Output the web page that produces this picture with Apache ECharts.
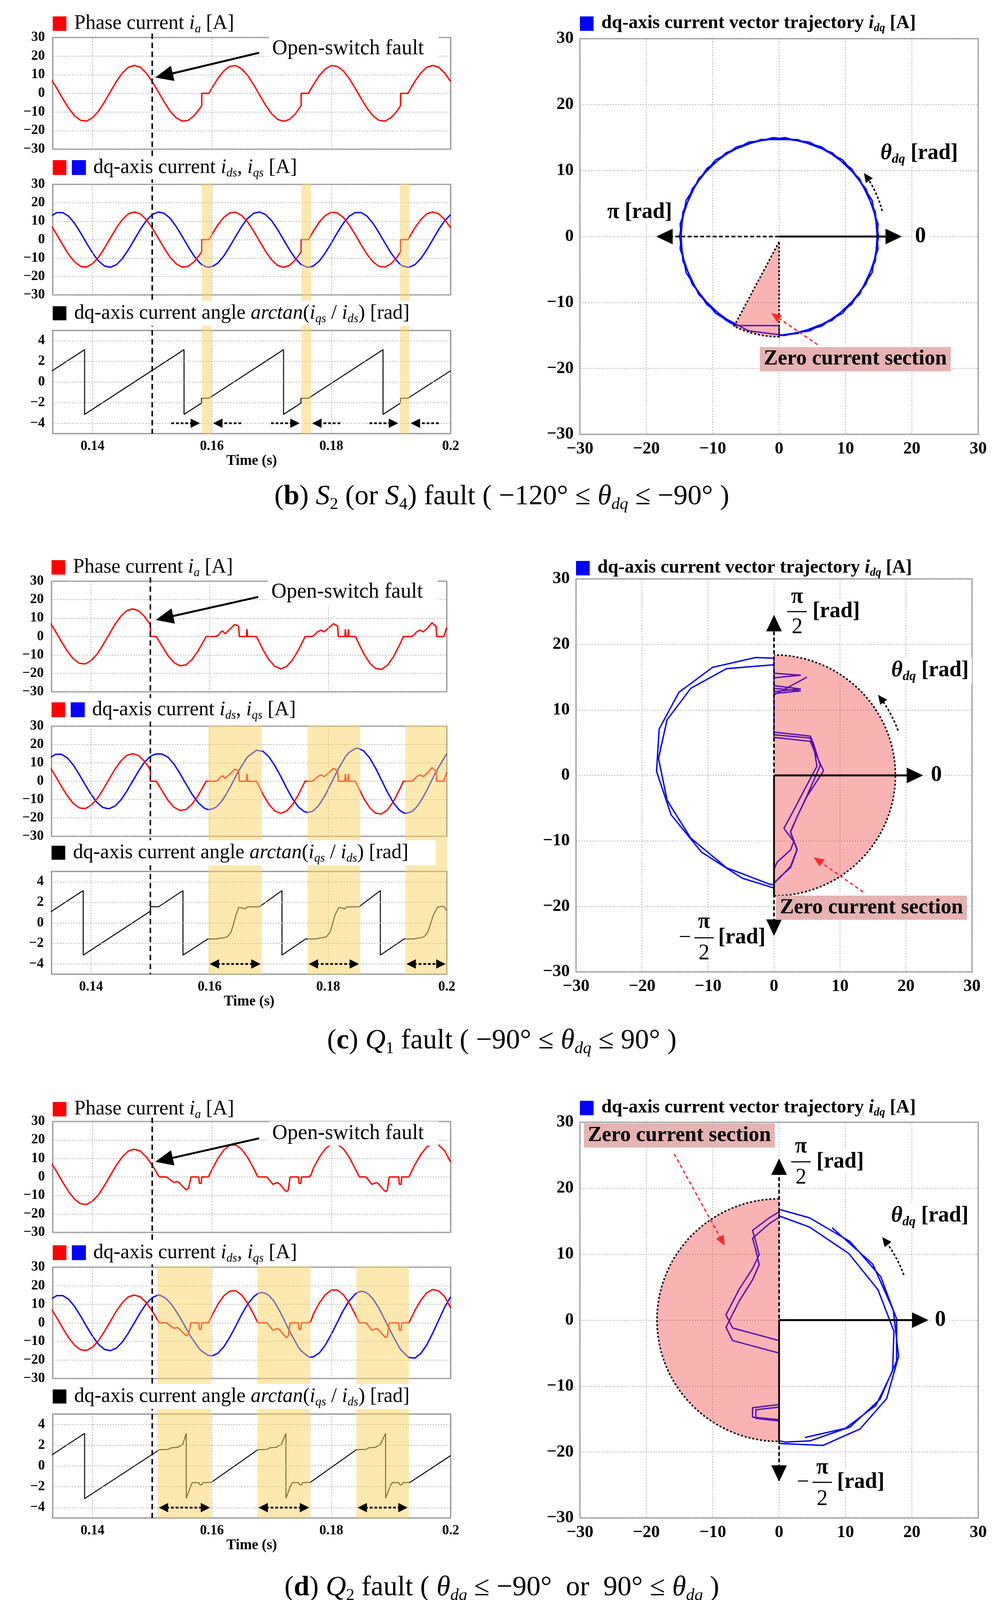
<!DOCTYPE html>
<html>
<head>
<meta charset="utf-8">
<title>Open-switch fault - dq-axis current</title>
<script src="https://cdn.jsdelivr.net/npm/echarts@6.0.0/dist/echarts.min.js"></script>
<style>
html, body { margin: 0; padding: 0; background: #fff; }
#main { width: 2553px; height: 4139px; }
</style>
</head>
<body>
<div id="main"></div>
<script>
var SERIF = '"Liberation Serif", "Times New Roman", serif';
var TMIN = 0.13333, TMAX = 0.2, FAULT_T = 0.15;
var timeTicks = [0.14, 0.16, 0.18, 0.2];
var angleTicks = [-4, -2, 0, 2, 4];

// (b) S2 fault : phase current ia (= ids) and iqs
var tB = [0.133,0.134,0.135,0.136,0.137,0.138,0.139,0.140,0.141,0.142,0.143,0.144,0.145,0.146,0.147,0.148,0.149,0.150,0.151,0.152,0.153,0.154,0.155,0.156,0.157,0.158,
  0.1583,0.1583,0.159,0.1595,
  0.160,0.161,0.162,0.163,0.164,0.165,0.166,0.167,0.168,0.169,0.170,0.171,0.172,0.173,0.174,
  0.17495,0.17495,0.175,0.176,0.17617,
  0.177,0.178,0.179,0.180,0.181,0.182,0.183,0.184,0.185,0.186,0.187,0.188,0.189,0.190,0.191,
  0.1916,0.1916,0.192,0.19283,
  0.193,0.194,0.195,0.196,0.197,0.198,0.199,0.200];
var iaB = [8.0,2.8,-2.8,-8.0,-12.1,-14.5,-14.9,-13.1,-9.6,-4.6,0.9,6.4,10.9,14.0,15.0,14.0,10.9,6.4,0.9,-4.6,-9.6,-13.1,-14.9,-14.5,-12.1,-8.0,
  -6.6,0,0,0,
  2.8,8.0,12.1,14.5,14.9,13.1,9.6,4.6,-0.9,-6.4,-10.9,-14.0,-15.0,-14.0,-10.9,
  -6.6,0,0,0,0,
  4.6,9.6,13.1,14.9,14.5,12.1,8.0,2.8,-2.8,-8.0,-12.1,-14.5,-14.9,-13.1,-9.6,
  -6.6,0,0,0,
  0.9,6.4,10.9,14.0,15.0,14.0,10.9,6.4];
var iqB = [12.7,14.7,14.7,12.7,8.8,3.7,-1.9,-7.2,-11.6,-14.3,-15.0,-13.6,-10.3,-5.5,0,5.5,10.3,13.6,15.0,14.3,11.6,7.2,1.9,-3.7,-8.8,-12.7,
  -13.5,-13.5,-14.7,-15.0,
  -14.7,-12.7,-8.8,-3.7,1.9,7.2,11.6,14.3,15.0,13.6,10.3,5.5,0,-5.5,-10.3,
  -13.5,-13.5,-13.6,-15.0,-15.0,
  -14.3,-11.6,-7.2,-1.9,3.7,8.8,12.7,14.7,14.7,12.7,8.8,3.7,-1.9,-7.2,-11.6,
  -13.5,-13.5,-14.3,-15.0,
  -15.0,-13.6,-10.3,-5.5,0,5.5,10.3,13.6];
var tAngB = [0.133,0.13867,0.13867,0.15533,0.15533,0.15826,0.15826,0.1595,0.172,0.172,0.17492,0.17492,0.17617,0.18867,0.18867,0.19159,0.19159,0.19283,0.2];
var angB = [1.0,3.14,-3.14,3.14,-3.14,-2.04,-1.57,-1.57,3.14,-3.14,-2.04,-1.57,-1.57,3.14,-3.14,-2.04,-1.57,-1.57,1.1];
var bandsB = [[0.1583, 0.1600], [0.1750, 0.1766], [0.1915, 0.1931]];

// (c) Q1 fault
var tC = [0.133,0.134,0.135,0.136,0.137,0.138,0.139,0.140,0.141,0.142,
  0.143,0.144,0.145,0.146,0.147,0.148,0.149,0.150,0.150,0.151,
  0.152,0.153,0.154,0.155,0.156,0.157,0.158,0.159,0.1594,0.160,
  0.161,0.1614,0.1619,0.1622,0.1626,0.1631,0.1636,0.1642,0.1647,0.1649,
  0.1650,0.1662,0.1663,0.1664,0.1679,0.169,0.170,0.171,0.172,0.173,
  0.174,0.175,0.176,0.1761,0.1766,0.1773,0.1777,0.1782,0.1788,0.1793,
  0.1797,0.1802,0.1809,0.1814,0.1816,0.1817,0.1828,0.1829,0.1830,0.1833,
  0.1834,0.1835,0.1846,0.185,0.186,0.187,0.188,0.189,0.190,0.191,
  0.192,0.1927,0.1932,0.1941,0.1945,0.1949,0.1955,0.1960,0.1964,0.1969,
  0.1975,0.1980,0.1982,0.1983,0.1995,0.200];
var iaC = [8.0,2.8,-2.8,-8.0,-12.1,-14.5,-14.9,-13.1,-9.6,-4.6,
  0.9,6.4,10.9,14.0,15.0,14.0,10.9,6.4,0,0,
  -5.3,-10.5,-14.2,-15.9,-15.4,-12.6,-8.1,-2.4,0,0,
  0,0.5,2.5,3.0,1.5,3.0,4.5,6.5,6.0,5.5,
  0,0,4.0,0,0,-7.2,-12.6,-16.2,-17.5,-16.2,
  -12.6,-7.2,-0.7,0,0,0,1.0,2.5,3.5,2.5,
  3.5,5.0,7.0,6.0,5.5,0,0,4.0,0,0,
  4.0,0,0,-2.8,-9.3,-14.4,-17.4,-17.8,-15.6,-11.0,
  -4.8,0,0,0,1.0,2.5,3.5,2.5,3.5,5.0,
  7.5,6.0,5.5,0,0,5.0];
var iqC = [12.7,14.7,14.7,12.7,8.8,3.7,-1.9,-7.2,-11.6,-14.3,
  -15.0,-13.6,-10.3,-5.5,0,5.5,10.3,13.6,13.6,14.9,
  14.8,13.0,9.3,4.2,-1.4,-6.9,-11.4,-14.4,-15.1,-15.5,
  -14.3,-13.2,-11.4,-10.1,-8.1,-5.3,-2.4,1.4,4.5,5.7,
  6.2,12.5,12.9,13.3,16.9,16.3,13.3,8.5,2.6,-3.8,
  -9.6,-14.1,-16.6,-16.7,-17.0,-16.4,-15.5,-13.9,-11.3,-8.6,
  -6.3,-3.1,1.5,4.8,6.0,6.6,12.8,13.2,13.7,14.9,
  15.3,15.6,17.9,18.0,16.5,12.7,7.1,0.6,-6.0,-11.7,
  -15.7,-17.2,-17.5,-16.5,-15.4,-14.1,-11.4,-8.7,-6.3,-3.2,
  0.7,4.0,5.2,5.8,12.3,15.0];
var tAngC = [0.133,0.13867,0.13867,0.150,0.150,0.1514,0.1555,0.1555,0.1597,0.1611,0.1617,0.1624,0.1630,0.1636,0.1640,0.1644,0.1649,0.1655,0.1660,0.1663,
  0.1684,0.1722,0.1722,0.1762,0.1778,0.1784,0.1790,0.1797,0.1803,0.1807,0.1811,0.1818,0.1823,0.1828,0.1831,
  0.1852,0.1888,0.1888,0.1928,0.1944,0.1950,0.1956,0.1962,0.1968,0.1972,0.1977,0.1984,0.1989,0.1995,0.2];
var angC = [1.0,3.14,-3.14,1.13,1.57,1.57,3.14,-3.14,-1.57,-1.57,-1.50,-1.45,-1.35,-0.9,-0.2,0.7,1.5,1.45,1.35,1.55,
  1.57,3.14,-3.14,-1.57,-1.57,-1.50,-1.45,-1.35,-0.9,-0.2,0.7,1.5,1.45,1.35,1.55,
  1.57,3.14,-3.14,-1.57,-1.57,-1.50,-1.45,-1.35,-0.9,-0.2,0.7,1.5,1.6,1.6,1.2];
var bandsC = [[0.1598, 0.1688], [0.1765, 0.1854], [0.1930, 0.2000]];

// (d) Q2 fault
var tD = [0.133,0.134,0.135,0.136,0.137,0.138,0.139,0.140,0.141,0.142,
  0.143,0.144,0.145,0.146,0.147,0.148,0.149,0.150,0.151,0.1512,
  0.152,0.1524,0.1528,0.1532,0.1537,0.1541,0.1545,0.1549,0.1557,0.1561,
  0.1565,0.1578,0.1579,0.1582,0.1583,0.1594,0.160,0.161,0.162,0.163,
  0.164,0.165,0.166,0.167,0.1677,0.1684,0.1692,0.1696,0.1702,0.1706,
  0.1710,0.1714,0.1719,0.1725,0.1728,0.1731,0.1745,0.1746,0.1749,0.1750,
  0.1762,0.1766,0.177,0.178,0.179,0.180,0.181,0.182,0.183,0.184,
  0.1847,0.1851,0.1858,0.1862,0.1868,0.1872,0.1876,0.1880,0.1885,0.1891,
  0.1894,0.1897,0.1913,0.1914,0.1917,0.1918,0.1930,0.194,0.195,0.196,
  0.197,0.198,0.199,0.200];
var iaD = [8.0,2.8,-2.8,-8.0,-12.1,-14.5,-14.9,-13.1,-9.6,-4.6,
  0.9,6.4,10.9,14.0,15.0,14.0,10.9,6.4,0.9,0,
  0,0,-1.0,-2.0,-3.0,-2.5,-3.0,-4.5,-7.0,-6.0,
  0,0,-3.5,-3.5,0,0,3.9,10.0,14.6,17.1,
  17.3,14.9,10.5,4.6,0,0,0,-1.5,-4.0,-3.5,
  -3.0,-4.0,-6.0,-8.0,-7.0,0,0,-3.5,-3.5,0,
  0,1.0,4.7,10.7,15.2,17.7,17.7,15.3,10.7,4.6,
  0,0,0,-1.5,-4.0,-3.5,-3.0,-4.0,-6.0,-8.0,
  -7.0,0,0,-4.0,-4.0,0,0,6.6,12.2,16.2,
  18.0,17.2,14.1,8.0];
var iqD = [12.7,14.7,14.7,12.7,8.8,3.7,-1.9,-7.2,-11.6,-14.3,
  -15.0,-13.6,-10.3,-5.5,0,5.5,10.3,13.6,15.0,15.0,
  13.8,12.8,11.5,10.0,7.8,5.8,3.7,1.5,-3.1,-5.4,
  -7.6,-13.6,-14.0,-15.0,-15.3,-17.6,-17.8,-16.4,-12.9,-7.7,
  -1.7,4.6,10.1,14.1,15.8,16.4,15.6,14.6,12.4,10.6,
  8.4,6.1,2.9,-1.1,-3.1,-5.0,-13.2,-13.6,-14.9,-15.3,
  -18.3,-18.5,-18.3,-16.2,-12.0,-6.2,0.2,6.6,11.9,15.5,
  16.8,17.0,16.4,15.5,13.6,11.9,9.9,7.8,4.7,0.8,
  -1.2,-3.1,-12.8,-13.3,-14.7,-15.1,-18.7,-19.0,-16.5,-11.9,
  -5.5,1.5,8.5,14.0];
var tAngD = [0.133,0.13867,0.13867,0.1512,0.1527,0.1532,0.1543,0.1547,0.1551,0.1557,0.1557,0.1561,0.1564,0.1567,0.1578,0.1580,0.1583,0.1585,0.1599,
  0.1677,0.1692,0.1697,0.1708,0.1712,0.1716,0.1724,0.1724,0.1728,0.1731,0.1735,0.1745,0.1747,0.1750,0.1752,0.1765,
  0.1842,0.1858,0.1863,0.1874,0.1878,0.1882,0.1891,0.1891,0.1895,0.1898,0.1902,0.1913,0.1915,0.1918,0.1920,0.1932,0.2];
var angD = [1.0,3.14,-3.14,1.57,1.6,1.75,1.8,1.95,2.05,3.14,-3.1,-2.5,-2.0,-1.6,-1.6,-1.8,-1.8,-1.6,-1.57,
  1.57,1.6,1.75,1.8,1.95,2.05,3.14,-3.1,-2.5,-2.0,-1.6,-1.6,-1.8,-1.8,-1.6,-1.57,
  1.57,1.6,1.75,1.8,1.95,2.05,3.14,-3.1,-2.5,-2.0,-1.6,-1.6,-1.8,-1.8,-1.6,-1.57,1.0];
var bandsD = [[0.1509, 0.1599], [0.1676, 0.1765], [0.1842, 0.1930]];

// texts
var T1 = '{n|Phase current }{i|i}{s|a}{n| [A]}';
var T2 = '{n|dq-axis current }{i|i}{s|ds}{n|, }{i|i}{s|qs}{n| [A]}';
var T3 = '{n|dq-axis current angle }{i|arctan}{n|(}{i|i}{s|qs}{n| / }{i|i}{s|ds}{n|) [rad]}';
var TXY = '{n|dq-axis current vector trajectory }{i|i}{s|dq}{n| [A]}';
var capB = '{n|(}{b|b}{n|) }{i|S}{u|2}{n| (or }{i|S}{u|4}{n|) fault ( \u2212120° ≤ }{i|θ}{s|dq}{n| ≤ \u221290° )}';
var capC = '{n|(}{b|c}{n|) }{i|Q}{u|1}{n| fault ( \u221290° ≤ }{i|θ}{s|dq}{n| ≤ 90° )}';
var capD = '{n|(}{b|d}{n|) }{i|Q}{u|2}{n| fault ( }{i|θ}{s|dq}{n| ≤ \u221290°  or  90° ≤ }{i|θ}{s|dq}{n| )}';

var rows = [
  {t: tB, ia: iaB, iq: iqB, ta: tAngB, ang: angB, bands: bandsB, xyFrom: 0.13, split: true,
   left: 135, width: 1019, tops: [96, 472, 846], hts: [286, 283, 264], xy: [1485, 99, 1020, 1013],
   ty: [60, 429, 802], xyTy: 60, capY: 1272, cap: capB,
   fault: {tail: [0.1679, 21.8], tip: [0.1505, 8.5], text: [0.1701, 23.9]},
   note: {pink: {r: 15.2, a0: -116.5, a1: -90, apex: [0, -0.8], closed: true},
          solid: [[0, 0], [18.5, 0]], dashH: [[0, 0], [-18.5, 0]],
          zero: [21.3, 0], piLabel: [-21, 3.7], theta: {at: [14.8, 12.6], r: 16, a0: 14, a1: 37},
          zeroSec: [-2.9, -18.6], red: [[5.8, -16.4], [-1.2, -11.6]]}},
  {t: tC, ia: iaC, iq: iqC, ta: tAngC, ang: angC, bands: bandsC, xyFrom: 0.16, split: false,
   left: 132, width: 1012, tops: [1488, 1859, 2231], hts: [283, 282, 263], xy: [1475, 1482, 1014, 1006],
   ty: [1452, 1817, 2183], xyTy: 1454, capY: 2665, cap: capC,
   fault: {tail: [0.1682, 21.5], tip: [0.1509, 9.0], text: [0.1704, 24.1]},
   note: {pink: {r: 18.4, a0: -90, a1: 90, apex: null, closed: false},
          solid: [[0, 0], [22.6, 0]], vert: 24.5, vertSolid: -18.4,
          zero: [24.6, 0], fracUp: {x: 3.5, line: 25, pi: 27.2, two: 22.6, rad: 5.6},
          fracDn: {minus: -13.5, x: -10.6, line: -24.8, pi: -22.4, two: -27.2, rad: -8.7},
          theta: {at: [17.3, 16], r: 20, a0: 20, a1: 38},
          zeroSec: [0.3, -20.2], red: [[13.5, -17.8], [6, -12.5]]}},
  {t: tD, ia: iaD, iq: iqD, ta: tAngD, ang: angD, bands: bandsD, xyFrom: 0.16, split: false,
   left: 135, width: 1019, tops: [2871, 3244, 3620], hts: [284, 285, 266], xy: [1485, 2873, 1020, 1013],
   ty: [2839, 3207, 3575], xyTy: 2836, capY: 4065, cap: capD,
   fault: {tail: [0.1679, 20.9], tip: [0.1505, 8.2], text: [0.1701, 23.5]},
   note: {pink: {r: 18.4, a0: 90, a1: 270, apex: null, closed: false},
          solid: [[0, 0], [22.5, 0]], vert: 24.5, vertSolid: -18.5,
          zero: [24.3, 0], fracUp: {x: 3.3, line: 24, pi: 26.3, two: 21.6, rad: 5.4},
          fracDn: {minus: 3.6, x: 6.5, line: -24.6, pi: -22.4, two: -27.2, rad: 8.5},
          theta: {at: [16.4, 15.8], r: 20, a0: 20, a1: 39},
          zeroSec: [-29.4, 28.0], red: [[-15.8, 25.2], [-8.2, 11.3]]}}
];

function pairs(xs, ys) { return xs.map(function (x, i) { return [x, ys[i]]; }); }
function minus(v) { return String(v).replace('-', '\u2212'); }

var chart = echarts.init(document.getElementById('main'));

var grids = [], xAxes = [], yAxes = [], series = [];
var gridLine = {type: [3, 4], color: '#b0b0b0', width: 2};
var tickFont = {fontFamily: SERIF, fontSize: 35, fontWeight: 'bold', color: '#000'};
var xyFont = {fontFamily: SERIF, fontSize: 44, fontWeight: 'bold', color: '#000'};

rows.forEach(function (r, ri) {
  var g0 = ri * 4;
  for (var k = 0; k < 3; k++) {
    var g = g0 + k, bottom = (k === 2), isAngle = (k === 2);
    grids.push({left: r.left, top: r.tops[k], width: r.width, height: r.hts[k], show: true,
      borderColor: '#8f8f8f', borderWidth: 3, outerBoundsMode: 'none'});
    xAxes.push({type: 'value', gridIndex: g, min: TMIN, max: TMAX,
      axisLine: {show: false}, axisTick: {show: false}, splitLine: {show: false},
      axisLabel: Object.assign({show: bottom, customValues: timeTicks, margin: 15,
        formatter: function (v) { return String(+v.toFixed(2)); }}, tickFont),
      name: bottom ? 'Time (s)' : '', nameLocation: 'middle', nameGap: 52,
      nameTextStyle: {fontFamily: SERIF, fontSize: 37, fontWeight: 'bold', color: '#000'}});
    if (isAngle) {
      yAxes.push({type: 'value', gridIndex: g, min: -5, max: 5,
        axisLine: {show: false}, axisTick: {show: false}, splitLine: {show: false},
        axisLabel: Object.assign({customValues: angleTicks, margin: 20, formatter: minus}, tickFont)});
    } else {
      yAxes.push({type: 'value', gridIndex: g, min: -30, max: 30, interval: 10,
        axisLine: {show: false}, axisTick: {show: false}, splitLine: {show: true, lineStyle: gridLine},
        axisLabel: Object.assign({margin: 20, formatter: minus}, tickFont)});
    }
    var mlData = [{xAxis: 0.14}, {xAxis: 0.16}, {xAxis: 0.18}];
    if (isAngle) angleTicks.forEach(function (v) { mlData.push({yAxis: v}); });
    series.push({type: 'line', xAxisIndex: g, yAxisIndex: g, data: [], z: 1, silent: true,
      markLine: {silent: true, symbol: ['none', 'none'], label: {show: false}, animation: false,
        lineStyle: gridLine, emphasis: {disabled: true}, data: mlData}});
  }
  // xy grid
  var gx = g0 + 3;
  grids.push({left: r.xy[0], top: r.xy[1], width: r.xy[2], height: r.xy[3], show: true,
    borderColor: '#8f8f8f', borderWidth: 3, outerBoundsMode: 'none'});
  xAxes.push({type: 'value', gridIndex: gx, min: -30, max: 30, interval: 10,
    axisLine: {show: false}, axisTick: {show: false}, splitLine: {show: true, lineStyle: gridLine},
    axisLabel: Object.assign({margin: 16, formatter: minus}, xyFont)});
  yAxes.push({type: 'value', gridIndex: gx, min: -30, max: 30, interval: 10,
    axisLine: {show: false}, axisTick: {show: false}, splitLine: {show: true, lineStyle: gridLine},
    axisLabel: Object.assign({margin: 16, formatter: minus}, xyFont)});

  // traces
  series.push({type: 'line', xAxisIndex: g0, yAxisIndex: g0, data: pairs(r.t, r.ia), symbol: 'none', z: 3,
    lineStyle: {color: '#ff0000', width: 3.5}});
  series.push({type: 'line', xAxisIndex: g0 + 1, yAxisIndex: g0 + 1, data: pairs(r.t, r.iq), symbol: 'none', z: 3,
    lineStyle: {color: '#0000ff', width: 3.5}});
  series.push({type: 'line', xAxisIndex: g0 + 1, yAxisIndex: g0 + 1, data: pairs(r.t, r.ia), symbol: 'none', z: 4,
    lineStyle: {color: '#ff0000', width: 3.5}});
  series.push({type: 'line', xAxisIndex: g0 + 2, yAxisIndex: g0 + 2, data: pairs(r.ta, r.ang), symbol: 'none', z: 3,
    lineStyle: {color: '#000', width: 2.5}});
  var traj = [];
  r.t.forEach(function (t, i) { if (t >= r.xyFrom) traj.push([r.ia[i], r.iq[i]]); });
  series.push({type: 'line', xAxisIndex: gx, yAxisIndex: gx, data: traj, symbol: 'none', z: 3,
    lineStyle: {color: '#0000ff', width: 3.5, join: 'round'}});
});

chart.setOption({
  animation: false,
  backgroundColor: '#fff',
  grid: grids, xAxis: xAxes, yAxis: yAxes, series: series
});

// ---------- annotations ----------
function P(g, x, y) { return chart.convertToPixel({gridIndex: g}, [x, y]); }

function rich(size, weight) {
  var lh = Math.round(size * 1.15), ss = Math.round(size * 0.6), sl = Math.round(ss * 0.95);
  function st(extra) {
    return Object.assign({fontSize: size, fontFamily: SERIF, fontWeight: weight, fill: '#000', lineHeight: lh}, extra || {});
  }
  return {
    n: st(), b: st({fontWeight: 'bold'}), i: st({fontStyle: 'italic'}),
    s: st({fontSize: ss, lineHeight: sl, fontStyle: 'italic', verticalAlign: 'bottom'}),
    u: st({fontSize: ss, lineHeight: sl, verticalAlign: 'bottom'})
  };
}
function label(x, y, str, size, weight, o) {
  o = o || {};
  return {type: 'text', x: x, y: y, z: o.z || 40, silent: true, style: Object.assign({
    text: str, rich: rich(size, weight), fontSize: size, fontFamily: SERIF, fontWeight: weight, fill: '#000',
    align: o.align || 'left', verticalAlign: 'middle'}, o.style || {})};
}
function head(tip, from, L, W, color, z) {
  var dx = tip[0] - from[0], dy = tip[1] - from[1], d = Math.hypot(dx, dy) || 1;
  var ux = dx / d, uy = dy / d, bx = tip[0] - ux * L, by = tip[1] - uy * L;
  return {type: 'polygon', z: z, silent: true,
    shape: {points: [[tip[0], tip[1]], [bx - uy * W / 2, by + ux * W / 2], [bx + uy * W / 2, by - ux * W / 2]]},
    style: {fill: color}};
}
function arrow(a, b, o) {
  var dx = b[0] - a[0], dy = b[1] - a[1], d = Math.hypot(dx, dy), ux = dx / d, uy = dy / d;
  var e = [b[0] - ux * o.L * 0.8, b[1] - uy * o.L * 0.8];
  var s = o.both ? [a[0] + ux * o.L * 0.8, a[1] + uy * o.L * 0.8] : a;
  var els = [{type: 'line', z: o.z, silent: true, shape: {x1: s[0], y1: s[1], x2: e[0], y2: e[1]},
    style: {stroke: o.color, lineWidth: o.w, lineDash: o.dash || null}}];
  els.push(head(b, a, o.L, o.W, o.color, o.z));
  if (o.both) els.push(head(a, b, o.L, o.W, o.color, o.z));
  return els;
}
function arcPts(g, r, a0, a1) {
  var pts = [];
  for (var k = 0; k <= 48; k++) {
    var a = (a0 + (a1 - a0) * k / 48) * Math.PI / 180;
    pts.push(P(g, r * Math.cos(a), r * Math.sin(a)));
  }
  return pts;
}

var G = [];
rows.forEach(function (r, ri) {
  var g0 = ri * 4, gA = g0 + 2, gX = g0 + 3;
  var L = r.left, top1 = r.tops[0], top2 = r.tops[1], bot3 = r.tops[2] + r.hts[2];

  // highlighted zero-current intervals
  r.bands.forEach(function (b) {
    var x0 = P(g0 + 1, b[0], 0)[0], x1 = P(g0 + 1, b[1], 0)[0];
    G.push({type: 'rect', z: 10, silent: true, shape: {x: x0, y: top2 - 2, width: x1 - x0, height: bot3 - top2 + 2},
      style: {fill: 'rgba(251,209,97,0.5)'}});
  });
  // fault instant
  var fx = P(g0, FAULT_T, 0)[0];
  G.push({type: 'line', z: 12, silent: true, shape: {x1: fx, y1: top1 - 10, x2: fx, y2: bot3},
    style: {stroke: '#000', lineWidth: 4, lineDash: [14, 9]}});

  // panel titles
  G.push({type: 'rect', z: 22, shape: {x: L, y: r.ty[0] - 18, width: 35, height: 37}, style: {fill: '#ff0000'}});
  G.push(label(L + 55, r.ty[0], T1, 52, 'normal', {z: 21}));
  G.push(label(L - 5, r.ty[1], T2, 52, 'normal', {z: 20, style: {backgroundColor: '#fff', padding: [0, 10, 0, 109]}}));
  G.push({type: 'rect', z: 22, shape: {x: L, y: r.ty[1] - 19, width: 35, height: 38}, style: {fill: '#ff0000'}});
  G.push({type: 'rect', z: 22, shape: {x: L + 49, y: r.ty[1] - 19, width: 36, height: 38}, style: {fill: '#0000ff'}});
  G.push(label(L - 5, r.ty[2], T3, 52, 'normal', {z: 20, style: {backgroundColor: '#fff', padding: [2, 70, 2, 60]}}));
  G.push({type: 'rect', z: 22, shape: {x: L, y: r.ty[2] - 18, width: 35, height: 36}, style: {fill: '#000'}});

  // open-switch fault note
  var tp = P(g0, r.fault.text[0], r.fault.text[1]);
  G.push(label(tp[0] - 8, tp[1], '{n|Open-switch fault}', 54, 'normal', {z: 30, style: {backgroundColor: '#fff', padding: [0, 37, 0, 8]}}));
  G = G.concat(arrow(P(g0, r.fault.tail[0], r.fault.tail[1]), P(g0, r.fault.tip[0], r.fault.tip[1]),
    {w: 5, L: 46, W: 40, color: '#000', z: 31}));

  // interval arrows in the angle panel
  var ao = {w: 4.5, dash: [7, 5], L: 24, W: 24, color: '#000', z: 30};
  r.bands.forEach(function (b) {
    if (r.split) {
      G = G.concat(arrow(P(gA, b[0] - 0.0051, -4), P(gA, b[0] - 0.0003, -4), ao));
      G = G.concat(arrow(P(gA, b[1] + 0.0049, -4), P(gA, b[1] + 0.0002, -4), ao));
    } else {
      G = G.concat(arrow(P(gA, b[0] + 0.0002, -4), P(gA, b[1] - 0.0002, -4), Object.assign({both: true}, ao)));
    }
  });

  // xy panel title
  G.push({type: 'rect', z: 22, shape: {x: r.xy[0], y: r.xyTy - 18, width: 35, height: 37}, style: {fill: '#0000ff'}});
  G.push(label(r.xy[0] + 55, r.xyTy, TXY, 48, 'bold', {z: 21}));

  // caption
  G.push(label(1285, r.capY, r.cap, 72, 'normal', {z: 21, align: 'center'}));

  // xy annotations
  var n = r.note, pk = n.pink;
  var arc = arcPts(gX, pk.r, pk.a0, pk.a1);
  if (pk.closed) {
    var ap = P(gX, pk.apex[0], pk.apex[1]);
    var poly = [ap].concat(arc);
    G.push({type: 'polygon', z: 10, silent: true, shape: {points: poly},
      style: {fill: 'rgba(240,50,50,0.37)', stroke: '#000', lineWidth: 4, lineDash: [5, 5]}});
  } else {
    G.push({type: 'polygon', z: 10, silent: true, shape: {points: arc}, style: {fill: 'rgba(240,50,50,0.37)'}});
    G.push({type: 'polyline', z: 11, silent: true, shape: {points: arc},
      style: {stroke: '#000', lineWidth: 4, lineDash: [5, 5], fill: null}});
  }
  var big = {w: 5, L: 42, W: 40, color: '#000', z: 32};
  G = G.concat(arrow(P(gX, n.solid[0][0], n.solid[0][1]), P(gX, n.solid[1][0], n.solid[1][1]), big));
  if (n.dashH) {
    G = G.concat(arrow(P(gX, n.dashH[0][0], n.dashH[0][1]), P(gX, n.dashH[1][0], n.dashH[1][1]),
      Object.assign({}, big, {w: 4, dash: [10, 6]})));
  }
  if (n.vert) {
    G = G.concat(arrow(P(gX, 0, -n.vert), P(gX, 0, n.vert), Object.assign({}, big, {w: 4, dash: [10, 6], both: true})));
    var o0 = P(gX, 0, 0), o1 = P(gX, 0, n.vertSolid);
    G.push({type: 'line', z: 32, silent: true, shape: {x1: o0[0], y1: o0[1], x2: o1[0], y2: o1[1]},
      style: {stroke: '#000', lineWidth: 4.5}});
  }
  var zp = P(gX, n.zero[0], n.zero[1]);
  G.push(label(zp[0], zp[1], '{n|0}', 56, 'bold', {z: 33, align: 'center', style: {backgroundColor: '#fff', padding: [0, 6]}}));
  if (n.piLabel) {
    var pp = P(gX, n.piLabel[0], n.piLabel[1]);
    G.push(label(pp[0], pp[1], '{n|π [rad]}', 56, 'bold', {z: 33, align: 'center', style: {backgroundColor: '#fff', padding: [0, 4]}}));
  }
  function frac(f, withMinus) {
    var pl = P(gX, f.x, f.line), pi = P(gX, f.x, f.pi), p2 = P(gX, f.x, f.two), pr = P(gX, f.rad, f.line);
    G.push({type: 'line', z: 33, silent: true, shape: {x1: pl[0] - 25, y1: pl[1], x2: pl[0] + 25, y2: pl[1]},
      style: {stroke: '#000', lineWidth: 3}});
    G.push(label(pi[0], pi[1], '{n|π}', 56, 'bold', {z: 33, align: 'center'}));
    G.push(label(p2[0], p2[1], '{n|2}', 56, 'normal', {z: 33, align: 'center'}));
    G.push(label(pr[0], pr[1], '{n|[rad]}', 56, 'bold', {z: 33, style: {backgroundColor: '#fff', padding: [0, 4]}}));
    if (withMinus) {
      var pm = P(gX, f.minus, f.line);
      G.push(label(pm[0], pm[1], '{n|\u2212}', 56, 'normal', {z: 33, align: 'center'}));
    }
  }
  if (n.fracUp) frac(n.fracUp, false);
  if (n.fracDn) frac(n.fracDn, true);

  var th = n.theta, tl = P(gX, th.at[0], th.at[1]);
  G.push(label(tl[0], tl[1], '{i|θ}{s|dq}{n| [rad]}', 56, 'bold', {z: 33, style: {backgroundColor: '#fff', padding: [0, 8]}}));
  var tpts = arcPts(gX, th.r, th.a0, th.a1);
  G.push({type: 'polyline', z: 33, silent: true, shape: {points: tpts.slice(0, tpts.length - 4)},
    style: {stroke: '#000', lineWidth: 4, lineDash: [6, 5], fill: null}});
  G.push(head(tpts[tpts.length - 1], tpts[tpts.length - 8], 24, 22, '#000', 33));

  var zs = P(gX, n.zeroSec[0], n.zeroSec[1]);
  G.push(label(zs[0], zs[1], '{n|Zero current section}', 54, 'bold', {z: 33, style: {backgroundColor: '#e6b2b2', padding: [0, 10]}}));
  G = G.concat(arrow(P(gX, n.red[0][0], n.red[0][1]), P(gX, n.red[1][0], n.red[1][1]),
    {w: 3.5, dash: [9, 7], L: 26, W: 22, color: '#ff2a2a', z: 33}));
});

chart.setOption({graphic: {elements: G}});
</script>
</body>
</html>
